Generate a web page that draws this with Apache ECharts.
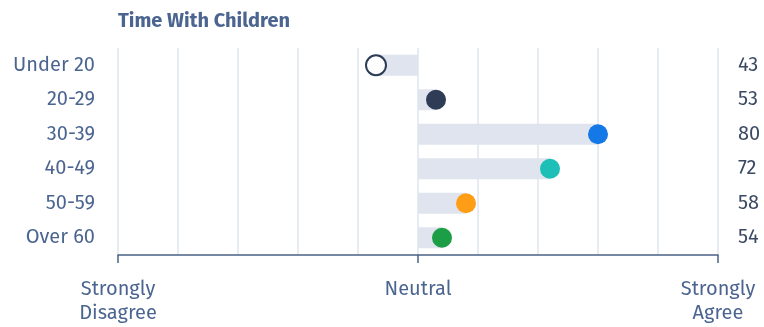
<!DOCTYPE html>
<html>
<head>
<meta charset="utf-8">
<script src="https://cdn.jsdelivr.net/npm/echarts@6/dist/echarts.min.js"></script>
<style>
  html, body { margin: 0; padding: 0; background: #fff; }
  #chart { width: 764px; height: 327px; }
</style>
</head>
<body>
<div id="chart"></div>
<script>
// Age groups and their average agreement score (0 = strongly disagree, 100 = strongly agree)
const ageGroups = ['Under 20', '20-29', '30-39', '40-49', '50-59', 'Over 60'];
const scores = [43, 53, 80, 72, 58, 54];
const dotColors = ['#ffffff', '#2e3c56', '#1479e6', '#1dbfb6', '#ff9e16', '#1b9e46'];
const neutral = 50;
const scaleLabels = { 0: 'Strongly\nDisagree', 50: 'Neutral', 100: 'Strongly\nAgree' };

const fontFamily = '"Fira Sans", "Noto Sans", sans-serif';
const textColor = '#4b6590';

const chart = echarts.init(document.getElementById('chart'));

chart.setOption({
  animation: false,
  title: {
    text: 'Time With Children',
    left: 113,
    top: 6,
    textStyle: { fontFamily, fontSize: 20, fontWeight: 'bold', color: textColor }
  },
  grid: { left: 118, right: 46, top: 48, bottom: 72, containLabel: false },
  xAxis: [
    {
      type: 'value', min: 0, max: 100, interval: 10,
      axisLine: { show: false }, axisTick: { show: false }, axisLabel: { show: false },
      splitLine: { show: true, lineStyle: { color: '#dfe4ee', width: 1.5 } }
    },
    {
      type: 'value', min: 0, max: 100, interval: 50, position: 'bottom',
      axisLine: { show: true, lineStyle: { color: '#4a6186', width: 1.5 } },
      axisTick: { show: true, length: 8, lineStyle: { color: '#4a6186', width: 1.5 } },
      splitLine: { show: false },
      axisLabel: {
        margin: 22, fontFamily, fontSize: 20, color: textColor, lineHeight: 24,
        formatter: v => scaleLabels[v] || ''
      }
    }
  ],
  yAxis: [
    {
      type: 'category', data: ageGroups, inverse: true,
      axisLine: { show: false }, axisTick: { show: false },
      axisLabel: { margin: 23, fontFamily, fontSize: 20, color: textColor }
    },
    {
      type: 'category', data: scores.map(String), inverse: true, position: 'right',
      axisLine: { show: false }, axisTick: { show: false },
      axisLabel: { margin: 20, align: 'left', fontFamily, fontSize: 20, color: '#3b4a63' }
    }
  ],
  series: [
    {
      // span from neutral to each group's score
      type: 'custom',
      xAxisIndex: 0, yAxisIndex: 0,
      data: scores.map((v, i) => [v, i]),
      renderItem: (params, api) => {
        const v = api.value(0);
        const idx = api.value(1);
        const a = api.coord([neutral, idx]);
        const b = api.coord([v, idx]);
        const h = 21;
        return {
          type: 'rect',
          shape: { x: Math.min(a[0], b[0]), y: a[1] - h / 2, width: Math.abs(b[0] - a[0]), height: h },
          style: { fill: '#dfe4ee' }
        };
      },
      z: 2
    },
    {
      type: 'scatter',
      xAxisIndex: 0, yAxisIndex: 0,
      symbolSize: 20,
      data: scores.map((v, i) => ({
        value: [v, i],
        itemStyle: i === 0
          ? { color: '#ffffff', borderColor: '#2b3a55', borderWidth: 2, opacity: 1 }
          : { color: dotColors[i], opacity: 1 }
      })),
      z: 3
    }
  ]
});
</script>
</body>
</html>
